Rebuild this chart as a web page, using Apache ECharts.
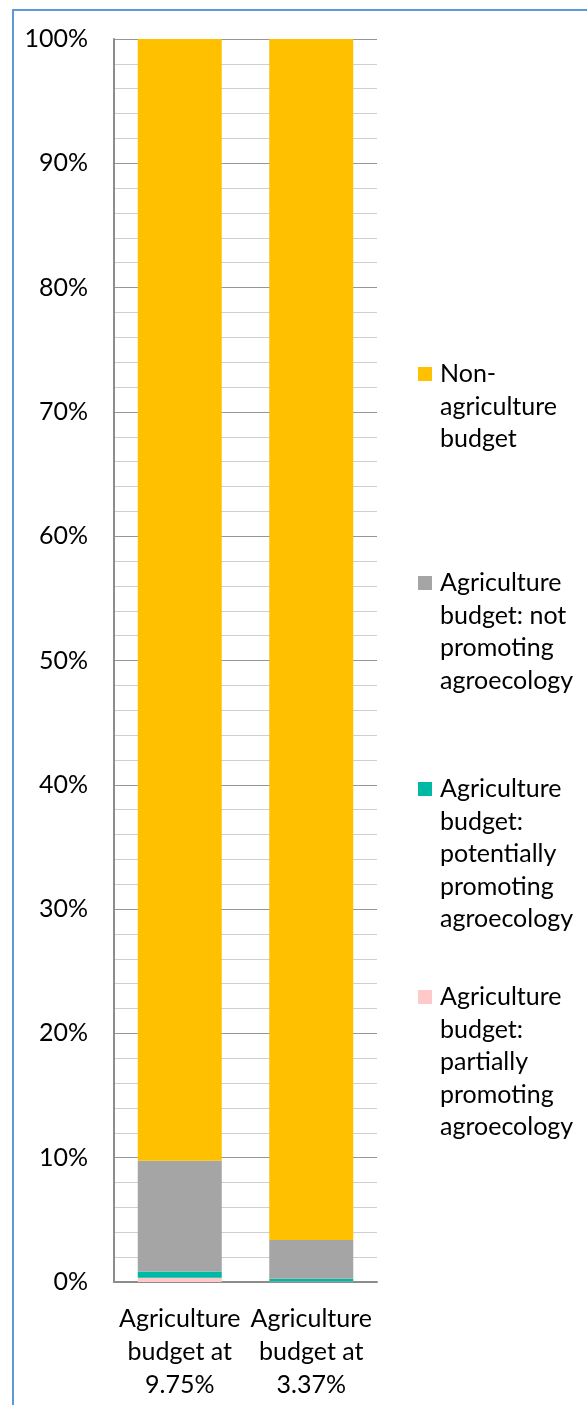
<!DOCTYPE html>
<html>
<head>
<meta charset="utf-8">
<script src="https://cdn.jsdelivr.net/npm/echarts@6/dist/echarts.min.js"></script>
<style>
html,body{margin:0;padding:0;background:#fff;}
#frame{position:absolute;left:12px;top:9px;width:600px;height:1420px;border-left:2px solid #5B9BD5;border-top:2px solid #5B9BD5;box-sizing:border-box;}
#chart{position:absolute;left:0;top:0;width:587px;height:1405px;}
</style>
</head>
<body>
<div id="frame"></div>
<div id="chart"></div>
<script>
const categories = ['Agriculture\nbudget at\n9.75%', 'Agriculture\nbudget at\n3.37%'];
const seriesNames = [
  'Agriculture budget: partially promoting agroecology',
  'Agriculture budget: potentially promoting agroecology',
  'Agriculture budget: not promoting agroecology',
  'Non-agriculture budget'
];
const legendLabels = [
  'Agriculture\nbudget:\npartially\npromoting\nagroecology',
  'Agriculture\nbudget:\npotentially\npromoting\nagroecology',
  'Agriculture\nbudget: not\npromoting\nagroecology',
  'Non-\nagriculture\nbudget'
];
const partially = [0.35, 0.05];
const potentially = [0.5, 0.22];
const notPromoting = [8.9, 3.10];
const nonAgriculture = [90.25, 96.63];
const yTickFormat = '{value}%';

const seriesData = [partially, potentially, notPromoting, nonAgriculture];
const colors = ['#FFC9C9', '#00B9A5', '#A5A5A5', '#FFC000'];

const FONT = 'Lato';
const FS = 25;
const LH = 32.5;
const firstLineCenters = [997, 789, 583, 374];

const legends = seriesNames.map((name, i) => {
  const n = legendLabels[i].split('\n').length;
  const label = '\n'.repeat(n - 1) + legendLabels[i];
  return {
    data: [name],
    left: 418,
    top: firstLineCenters[i] - (2 * n - 1) * LH / 2,
    padding: 0,
    orient: 'vertical',
    icon: 'rect',
    itemWidth: 14,
    itemHeight: 14,
    selectedMode: false,
    formatter: () => label,
    textStyle: {
      fontFamily: FONT, fontSize: FS, lineHeight: LH, color: '#000',
      padding: [0, 0, 0, 3]
    }
  };
});

const chart = echarts.init(document.getElementById('chart'), null, {renderer: 'canvas'});
chart.setOption({
  animation: false,
  textStyle: {fontFamily: FONT},
  grid: {left: 114, right: 210, top: 39, bottom: 123, containLabel: false},
  legend: legends,
  xAxis: {
    type: 'category',
    data: categories,
    axisLine: {lineStyle: {color: '#8C8C8C', width: 2}},
    axisTick: {show: false},
    axisLabel: {fontFamily: FONT, fontSize: FS, lineHeight: 33, color: '#000', margin: 20, interval: 0}
  },
  yAxis: {
    type: 'value',
    min: 0, max: 100, interval: 10,
    axisLine: {show: true, lineStyle: {color: '#8C8C8C', width: 2}},
    axisTick: {show: false},
    axisLabel: {fontFamily: FONT, fontSize: FS, color: '#000', margin: 26, formatter: yTickFormat},
    splitLine: {show: true, lineStyle: {color: '#969696', width: 1}},
    minorTick: {show: false, splitNumber: 5},
    minorSplitLine: {show: true, lineStyle: {color: '#CFCFCF', width: 1}}
  },
  series: seriesNames.map((name, i) => ({
    name: name,
    type: 'bar',
    stack: 'total',
    barWidth: 84,
    data: seriesData[i],
    itemStyle: {color: colors[i]}
  }))
});
</script>
</body>
</html>
